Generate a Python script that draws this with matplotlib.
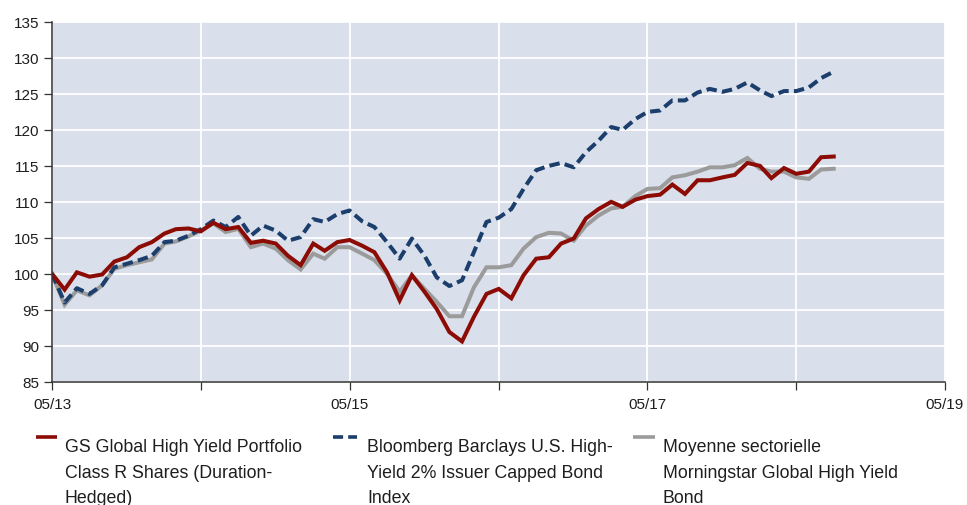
import numpy as np
import pandas as pd
import matplotlib
matplotlib.use("Agg")
import matplotlib.pyplot as plt
from matplotlib.lines import Line2D

plt.rcParams['font.family'] = ['Liberation Sans', 'DejaVu Sans']

# ---- data (monthly, rebased to 100) ----
dates = pd.date_range('2013-05-01', periods=64, freq='MS')

gs_fund = [100.0, 97.8, 100.2, 99.6, 99.9, 101.7, 102.3, 103.7, 104.4, 105.6,
           106.2, 106.3, 105.9, 107.1, 106.2, 106.5, 104.3, 104.6, 104.2, 102.5,
           101.2, 104.2, 103.2, 104.4, 104.7, 103.9, 103.0, 100.2, 96.3, 99.8,
           97.5, 95.1, 91.9, 90.6, 94.0, 97.2, 97.9, 96.6, 99.8, 102.1,
           102.3, 104.2, 104.9, 107.7, 109.0, 110.0, 109.3, 110.3, 110.8, 111.0,
           112.4, 111.1, 113.0, 113.0, 113.4, 113.75, 115.4, 115.0, 113.3, 114.7,
           113.9, 114.2, 116.2, 116.3]

bbg_index = [100.0, 96.0, 98.0, 97.2, 98.4, 100.9, 101.4, 101.9, 102.5, 104.4,
             104.6, 105.3, 106.2, 107.4, 106.5, 107.9, 105.3, 106.7, 106.0, 104.6,
             105.1, 107.6, 107.2, 108.3, 108.8, 107.3, 106.5, 104.4, 102.1, 104.9,
             102.5, 99.5, 98.3, 99.1, 103.0, 107.2, 107.8, 109.0, 111.8, 114.4,
             115.0, 115.4, 114.8, 116.9, 118.5, 120.4, 120.0, 121.5, 122.5, 122.7,
             124.1, 124.1, 125.2, 125.7, 125.3, 125.7, 126.6, 125.5, 124.7, 125.4,
             125.4, 125.9, 127.2, 128.1]

category_avg = [100.0, 95.7, 97.7, 97.0, 98.4, 100.7, 101.2, 101.6, 102.0, 104.2,
                104.5, 105.2, 106.0, 107.0, 105.8, 106.25, 103.7, 104.2, 103.5, 101.9,
                100.6, 102.8, 102.1, 103.7, 103.7, 102.8, 101.9, 100.0, 97.5, 99.8,
                97.9, 96.1, 94.1, 94.1, 98.1, 100.9, 100.9, 101.2, 103.5, 105.1,
                105.7, 105.6, 104.6, 106.7, 108.1, 109.1, 109.3, 110.8, 111.8, 111.9,
                113.4, 113.7, 114.2, 114.8, 114.8, 115.1, 116.1, 114.6, 114.2, 114.2,
                113.4, 113.2, 114.5, 114.6]

legend_labels = [
    ["GS Global High Yield Portfolio", "Class R Shares (Duration-", "Hedged)"],
    ["Bloomberg Barclays U.S. High-", "Yield 2% Issuer Capped Bond", "Index"],
    ["Moyenne sectorielle", "Morningstar Global High Yield", "Bond"],
]
y_ticks = [85, 90, 95, 100, 105, 110, 115, 120, 125, 130, 135]
x_tick_years = [2013, 2014, 2015, 2016, 2017, 2018, 2019]

# ---- style ----
RED = '#8c0b05'
BLUE = '#1b3e6c'
GRAY = '#9b9b9b'
BG = '#dae0eb'
SPINE = '#333333'
TXT = '#1e1e1e'

W, H = 967, 506
fig = plt.figure(figsize=(W / 100, H / 100), dpi=100)
ax = fig.add_axes([52 / W, 1 - 382.7 / H, (945 - 52) / W, (382.7 - 23) / H])
ax.set_facecolor(BG)

lw = 2.9
ax.plot(dates, category_avg, color=GRAY, lw=lw, zorder=3, solid_joinstyle='miter')
ax.plot(dates, bbg_index, color=BLUE, lw=lw, zorder=4, dashes=(2.6, 1.3),
        dash_capstyle='butt')
ax.plot(dates, gs_fund, color=RED, lw=lw, zorder=5, solid_joinstyle='miter')

ax.set_ylim(85, 135)
ax.set_xlim(pd.Timestamp('2013-05-01'), pd.Timestamp('2019-05-01'))
ax.set_yticks(y_ticks)
xt = [pd.Timestamp(f'{y}-05-01') for y in x_tick_years]
ax.set_xticks(xt)
ax.set_xticklabels([f'05/{str(y)[2:]}' if (y - 2013) % 2 == 0 else '' for y in x_tick_years])

ax.grid(True, color='white', lw=1.3, zorder=1)
ax.set_axisbelow(True)
for s in ['top', 'right']:
    ax.spines[s].set_visible(False)
for s in ['left', 'bottom']:
    ax.spines[s].set_color(SPINE)
    ax.spines[s].set_linewidth(1.1)
    ax.spines[s].set_zorder(6)
ax.tick_params(axis='both', direction='out', length=5.8, width=0.9, color=SPINE,
               labelcolor=TXT, labelsize=11)
ax.tick_params(axis='y', pad=3.5)
ax.tick_params(axis='x', pad=5.5)

# ---- legend (manual, below the plot) ----
def fy(py):
    return 1 - py / H

handles = [
    dict(x0=36, x1=57, color=RED, ls='-'),
    dict(x0=333, x1=357, color=BLUE, ls=(0, (2.8, 1.4))),
    dict(x0=633, x1=655, color=GRAY, ls='-'),
]
text_x = [65, 367, 663]
for h, tx, lines in zip(handles, text_x, legend_labels):
    fig.add_artist(Line2D([h['x0'] / W, h['x1'] / W], [fy(438), fy(438)],
                          transform=fig.transFigure, color=h['color'], lw=2.6,
                          linestyle=h['ls'], solid_capstyle='butt', dash_capstyle='butt'))
    for k, line in enumerate(lines):
        fig.text(tx / W, fy(452 + 25.7 * k), line, fontsize=12.8, color=TXT,
                 ha='left', va='baseline')

fig.savefig('out.png', dpi=100, facecolor='white')
